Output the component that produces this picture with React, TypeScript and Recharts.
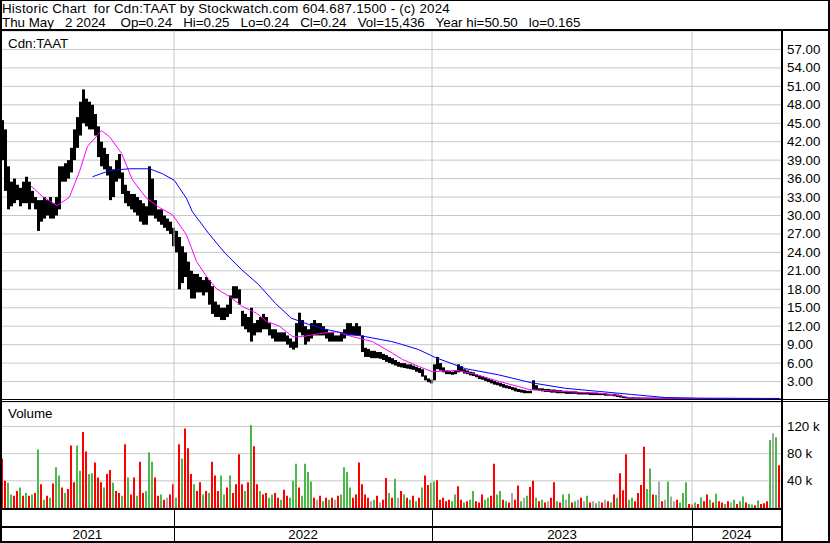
import { Bar, CartesianGrid, Cell, ComposedChart, Line, ReferenceLine, XAxis, YAxis } from 'recharts';

const FONT = '"Liberation Sans", Arial, sans-serif';

// one entry per 3px slot (about 3 trading days), oldest first
const priceHigh = [
  45.5, 44, 38, 35.5, 36, 35, 34.5, 35.5, 36.3, 35.5,
  34, 33, 32.5, 32.5, 33, 32.5, 33, 32, 33, 38,
  38, 38.5, 39, 41, 44, 46, 48.5, 50.5, 49, 48.5,
  48, 46.5, 44.5, 42, 41, 40, 38, 37.5, 39, 40,
  37, 35, 34, 33.5, 33.5, 33, 32.5, 32, 31.5, 38,
  36, 32.5, 31, 31, 30, 29.5, 29, 28, 27.5, 26.5,
  25, 24, 22.5, 21, 20.5, 20.5, 20, 19.5, 20, 19.5,
  18.5, 16, 15.5, 15, 15, 15.5, 17, 18.5, 18.5, 18,
  14.5, 14, 13.5, 15, 12.5, 13, 13.5, 14, 13.5, 12.5,
  11.5, 11.5, 11, 11, 11, 10.5, 10, 9.5, 12.5, 14.2,
  13, 12, 11.5, 12.5, 13, 12.5, 12.5, 12, 11.5, 11,
  11, 10.5, 10.5, 11, 11.5, 12.5, 12.5, 12, 12.5, 12,
  10.5, 8.5, 8.3, 8, 8, 7.8, 7.8, 7.5, 7.3, 7,
  6.8, 6.5, 6.2, 6, 6, 5.8, 5.8, 5.6, 5.4, 5.2,
  5, 4, 3.5, 3.3, 5.8, 7, 6, 5.3, 4.8, 4.7,
  4.6, 4.8, 5.8, 5.5, 5, 4.8, 4.6, 4.5, 4.2, 4,
  3.9, 3.7, 3.5, 3.3, 3.1, 2.9, 2.8, 2.6, 2.4, 2.3,
  2.1, 2, 1.8, 1.7, 1.6, 1.5, 1.5, 3.2, 2.4, 1.9,
  1.9, 1.8, 1.8, 1.7, 1.7, 1.6, 1.6, 1.5, 1.5, 1.4,
  1.4, 1.4, 1.3, 1.3, 1.3, 1.3, 1.2, 1.2, 1.2, 1.1,
  1.1, 1.1, 1, 1, 1, 0.9, 0.8, 0.6, 0.5, 0.4,
  0.45, 0.42, 0.42, 0.4, 0.4, 0.4, 0.38, 0.38, 0.38, 0.36,
  0.36, 0.36, 0.35, 0.35, 0.34, 0.34, 0.34, 0.33, 0.33, 0.33,
  0.32, 0.32, 0.32, 0.31, 0.31, 0.3, 0.3, 0.3, 0.3, 0.29,
  0.29, 0.29, 0.28, 0.28, 0.28, 0.28, 0.27, 0.27, 0.27, 0.27,
  0.26, 0.26, 0.26, 0.26, 0.26, 0.26, 0.3, 0.28, 0.27, 0.25,
];

const priceLow = [
  39, 34, 31, 31.5, 32, 32.5, 31.5, 32, 32, 31,
  32, 31, 27.5, 29, 29.5, 30, 29.5, 29.5, 30, 31,
  35.5, 35.5, 36, 37, 39, 41, 43, 45, 44.5, 44,
  44, 43, 39.5, 38, 37.5, 36.5, 32.5, 33, 35.5, 36,
  33.5, 32, 31.5, 31, 30.5, 30, 29, 28.5, 28.5, 30,
  30, 29.5, 29, 28.5, 28, 27.5, 27, 25, 24, 18,
  19, 20, 18, 16.5, 16.5, 17.5, 17.5, 17, 17.5, 15.5,
  14, 13.5, 13.5, 13, 13, 13.5, 14, 16.5, 16.5, 15.5,
  12, 11.5, 11, 9.5, 10.5, 11, 11, 11.5, 11.5, 10.5,
  10, 9.5, 9.5, 9.5, 9.5, 9, 8.5, 8.2, 8.5, 11,
  10.5, 9, 9.5, 10, 10.5, 10.5, 10.5, 10.5, 10, 9.5,
  9.5, 9.5, 9.5, 9.5, 10, 10.5, 10.5, 10.5, 10.5, 10.5,
  7.8, 7, 7, 6.8, 6.8, 6.8, 6.7, 6.5, 6.2, 6,
  5.8, 5.6, 5.4, 5.3, 5.2, 5.1, 5, 4.9, 4.6, 4.4,
  3.8, 3.2, 2.9, 2.7, 3.2, 5, 4.8, 4.5, 4.2, 4.2,
  4.1, 4.2, 4.5, 4.6, 4.3, 4.2, 4, 3.9, 3.7, 3.4,
  3.3, 3.1, 2.9, 2.7, 2.5, 2.4, 2.2, 2, 1.9, 1.8,
  1.6, 1.4, 1.3, 1.2, 1.1, 1.1, 1.1, 1.6, 1.6, 1.5,
  1.4, 1.3, 1.3, 1.2, 1.2, 1.1, 1.1, 1.1, 1, 1,
  1, 1, 0.9, 0.9, 0.9, 0.9, 0.8, 0.8, 0.8, 0.8,
  0.8, 0.7, 0.7, 0.7, 0.6, 0.5, 0.4, 0.3, 0.25, 0.2,
  0.2, 0.2, 0.2, 0.2, 0.2, 0.2, 0.19, 0.19, 0.19, 0.19,
  0.19, 0.19, 0.18, 0.18, 0.18, 0.18, 0.18, 0.18, 0.18, 0.18,
  0.18, 0.18, 0.18, 0.17, 0.17, 0.17, 0.17, 0.17, 0.17, 0.17,
  0.17, 0.17, 0.17, 0.17, 0.17, 0.17, 0.17, 0.17, 0.17, 0.17,
  0.17, 0.17, 0.17, 0.17, 0.17, 0.17, 0.2, 0.22, 0.22, 0.22,
];

// volume in thousands of shares
const volumeK = [
  73, 40, 37, 20, 18, 25, 30, 18, 22, 18,
  20, 22, 86, 35, 12, 18, 15, 36, 60, 48,
  30, 22, 28, 92, 38, 92, 55, 112, 83, 50,
  51, 67, 45, 38, 30, 50, 56, 37, 25, 22,
  18, 94, 45, 20, 45, 18, 68, 22, 25, 82,
  68, 45, 18, 20, 12, 15, 20, 35, 15, 94,
  73, 117, 88, 50, 35, 25, 38, 20, 25, 22,
  68, 48, 25, 48, 20, 30, 48, 22, 35, 79,
  35, 25, 38, 122, 91, 35, 25, 20, 22, 15,
  20, 22, 15, 12, 27, 18, 15, 40, 65, 30,
  18, 65, 53, 39, 15, 12, 18, 10, 15, 12,
  15, 12, 18, 20, 60, 53, 30, 15, 20, 67,
  35, 20, 15, 10, 12, 18, 8, 12, 44, 22,
  15, 43, 15, 25, 20, 15, 12, 18, 10, 15,
  30, 48, 34, 37, 39, 41, 12, 15, 10, 12,
  10, 20, 32, 12, 8, 10, 12, 25, 10, 8,
  20, 12, 15, 18, 65, 20, 25, 12, 10, 8,
  22, 12, 33, 10, 15, 18, 31, 40, 15, 10,
  12, 8, 10, 15, 38, 10, 8, 20, 12, 21,
  8, 10, 12, 15, 10, 18, 8, 10, 7, 10,
  8, 12, 10, 8, 20, 15, 51, 26, 79, 12,
  15, 10, 22, 34, 90, 28, 58, 20, 19, 39,
  10, 12, 39, 17, 10, 12, 8, 22, 38, 6,
  5, 8, 6, 16, 10, 20, 12, 8, 21, 10,
  8, 6, 10, 8, 12, 6, 10, 17, 8, 6,
  5, 4, 11, 6, 7, 10, 100, 110, 104, 63,
];

// r = down day, g = up day, n = unchanged
const volumeDir = [
  'rrggrrgrgr', 'grgrgrgrgg', 'rgrrrggrrg', 'grrrgrrgrr', 'grgrrgrrgg',
  'grrgrnrrgr', 'grrrgrrgrg', 'rrrggrgrrr', 'rgrgrrgrrg', 'grrgrrgggr',
  'ggggrnrgrg', 'rnrggggrrr', 'rrrngrnrrg', 'rgnrgrgrgr', 'grrggrrrrr',
  'ggrrgrggrr', 'rggrrggrgr', 'nrrgngrrgr', 'grnrrgrgng', 'rgnrngrngn',
  'rnrgrgrrrg', 'grrrrggrgn', 'rngnnrgggr', 'rgrgrrgrgr', 'rgrngrggrg',
  'grgrrrgngr',
].join('');

// moving averages: [slot, price]
const fastAvg = [
  [9.8, 34.9], [13.8, 33.1], [18.8, 31.6], [22.8, 33], [26.2, 37.2], [28.8, 41.2],
  [33.5, 43.8], [36.2, 42.8], [40.2, 40.1], [43.8, 35.8], [48.5, 32.8], [52.8, 31.3],
  [57.2, 30.1], [61.8, 26.9], [65.2, 22.5], [68.5, 20.1], [71.8, 18.1], [76.2, 16.8],
  [80.5, 15.2], [85.2, 14.1], [88.5, 12.8], [92.8, 12], [97.2, 10.3], [100.5, 10.3],
  [106.2, 10.8], [111.8, 11.1], [117.2, 10.3], [123.8, 9.5], [130.5, 7.6], [133.8, 6.6],
  [139.5, 5.4], [143.8, 4.6], [151.8, 4.8], [157.2, 4.3], [166.2, 3], [176.2, 1.7],
  [182.8, 1.5], [199.5, 1.1], [205, 0.8], [210.5, 0.3], [259.5, 0.2],
];

const slowAvg = [
  [30.5, 36.3], [36.2, 37.3], [42.8, 37.6], [49.5, 37.6], [53.8, 36.8], [57.8, 35.7],
  [61.8, 32.8], [63.8, 30.6], [69.2, 27.1], [74.8, 23.8], [80.2, 21.2], [85.8, 18.8],
  [91.5, 15.7], [96.8, 13.3], [102.5, 12.3], [108.2, 11.5], [114.8, 10.8], [121.5, 10.3],
  [130.2, 9.5], [132.5, 9.2], [139.2, 8.2], [144.8, 6.9], [154.8, 5.1], [165.8, 4.1],
  [176.8, 2.8], [188.2, 1.9], [199.2, 1.4], [210.2, 0.9], [221.5, 0.4], [232.5, 0.3],
  [259.5, 0.25],
];

const priceTicks = [3, 6, 9, 12, 15, 18, 21, 24, 27, 30, 33, 36, 39, 42, 45, 48, 51, 54, 57];
const volumeTicks = [40, 80, 120];
const yearNames = ['2021', '2022', '2023', '2024'];
const yearBounds = [57.67, 143.67, 230.33];
const yearCenters = [28.8, 100.7, 187, 245.2];

const titleLine = 'Historic Chart  for Cdn:TAAT by Stockwatch.com 604.687.1500 - (c) 2024';
const quoteLine = 'Thu May   2 2024    Op=0.24   Hi=0.25   Lo=0.24   Cl=0.24   Vol=15,436   Year hi=50.50   lo=0.165';

const rows = priceHigh.map((hi, i) => ({
  x: i + 0.5,
  range: [priceLow[i], hi],
  vol: volumeK[i],
  dir: volumeDir[i],
}));
const fastRows = fastAvg.map(([x, v]) => ({ x, v }));
const slowRows = slowAvg.map(([x, v]) => ({ x, v }));

const volColor: Record<string, string> = { r: '#ff0000', g: '#4cb84c', n: '#a8a8a8' };

const slotToPx = (b: number) => 1 + b * 3;

// high-low stick snapped to whole pixels; 3px so neighbouring slots join like daily bars
function PriceStick({ x, y, width, height }: any) {
  if (height == null || Number.isNaN(height)) return null;
  const left = Math.round(x + width / 2 - 1.5);
  return <rect x={left} y={y} width={3} height={Math.max(Math.abs(height), 1)} fill="#000" />;
}

function PriceTick({ y, payload }: any) {
  return (
    <text x={787} y={y} dy={4.5} fontSize={13.33} fontFamily={FONT} fill="#000">
      {payload.value.toFixed(2)}
    </text>
  );
}

function VolumeTick({ y, payload }: any) {
  return (
    <text x={787} y={y} dy={4.5} fontSize={13.33} fontFamily={FONT} fill="#000">
      {`${payload.value} k`}
    </text>
  );
}

function YearTick({ x, payload }: any) {
  const i = yearCenters.indexOf(payload.value);
  return (
    <text x={x} y={137} textAnchor="middle" fontSize={13.33} fontFamily={FONT} fill="#000">
      {yearNames[i]}
    </text>
  );
}

const margin = { top: 0, right: 0, bottom: 0, left: 1 };

export default function App() {
  return (
    <div style={{ position: 'absolute', left: 0, top: 0, width: 830, height: 543, background: '#fff', overflow: 'hidden' }}>
      <div style={{ position: 'absolute', left: 0, top: 31 }}>
        <ComposedChart width={830} height={369} data={rows} margin={margin}>
          <CartesianGrid vertical={false} stroke="#c8c8c8" />
          <XAxis type="number" dataKey="x" domain={[0, 260]} allowDataOverflow hide />
          <YAxis
            orientation="right"
            domain={[0, 60]}
            ticks={priceTicks}
            interval={0}
            width={49}
            axisLine={false}
            tickLine={false}
            tick={<PriceTick />}
          />
          {yearBounds.map((b) => (
            <ReferenceLine key={b} x={b} stroke="#c8c8c8" />
          ))}
          <Bar dataKey="range" fill="#000" barSize={2} shape={<PriceStick />} isAnimationActive={false} />
          <Line data={fastRows} dataKey="v" stroke="#ff00ff" strokeWidth={1} dot={false} isAnimationActive={false} />
          <Line data={slowRows} dataKey="v" stroke="#0000ff" strokeWidth={1} dot={false} isAnimationActive={false} />
        </ComposedChart>
      </div>

      <div style={{ position: 'absolute', left: 0, top: 402 }}>
        <ComposedChart width={830} height={141} data={rows} margin={margin}>
          <CartesianGrid vertical={false} stroke="#c8c8c8" />
          <XAxis
            type="number"
            dataKey="x"
            domain={[0, 260]}
            allowDataOverflow
            ticks={yearCenters}
            interval={0}
            height={35}
            axisLine={false}
            tickLine={false}
            tick={<YearTick />}
          />
          <YAxis
            orientation="right"
            domain={[0, 156]}
            ticks={volumeTicks}
            interval={0}
            width={49}
            axisLine={false}
            tickLine={false}
            tick={<VolumeTick />}
          />
          {yearBounds.map((b) => (
            <ReferenceLine key={b} x={b} stroke="#c8c8c8" />
          ))}
          <Bar dataKey="vol" barSize={2} isAnimationActive={false}>
            {rows.map((r, i) => (
              <Cell key={i} fill={volColor[r.dir]} />
            ))}
          </Bar>
        </ComposedChart>
      </div>

      <svg width={830} height={543} style={{ position: 'absolute', left: 0, top: 0, pointerEvents: 'none' }}>
        <g fontFamily={FONT} fontSize={13.33} fill="#000">
          <text x={2} y={13} letterSpacing={0.23} xmlSpace="preserve" style={{ whiteSpace: 'pre' }}>
            {titleLine}
          </text>
          <text x={2} y={27} xmlSpace="preserve" style={{ whiteSpace: 'pre' }}>
            {quoteLine}
          </text>
          <text x={8} y={48}>Cdn:TAAT</text>
          <text x={8} y={418}>Volume</text>
        </g>
        <rect x={0} y={0} width={830} height={1} fill="#000" />
        <rect x={0} y={29} width={830} height={2} fill="#000" />
        <rect x={0} y={0} width={2} height={543} fill="#000" />
        <rect x={828} y={0} width={2} height={543} fill="#000" />
        <rect x={781} y={29} width={2} height={514} fill="#000" />
        <rect x={0} y={399} width={830} height={1} fill="#000" />
        <rect x={0} y={401} width={830} height={1} fill="#000" />
        <rect x={0} y={508} width={782} height={2} fill="#000" />
        <rect x={0} y={526} width={782} height={2} fill="#000" />
        <rect x={0} y={541} width={830} height={2} fill="#000" />
        {yearBounds.map((b) => (
          <rect key={b} x={Math.round(slotToPx(b))} y={509} width={1} height={33} fill="#000" />
        ))}
      </svg>
    </div>
  );
}
